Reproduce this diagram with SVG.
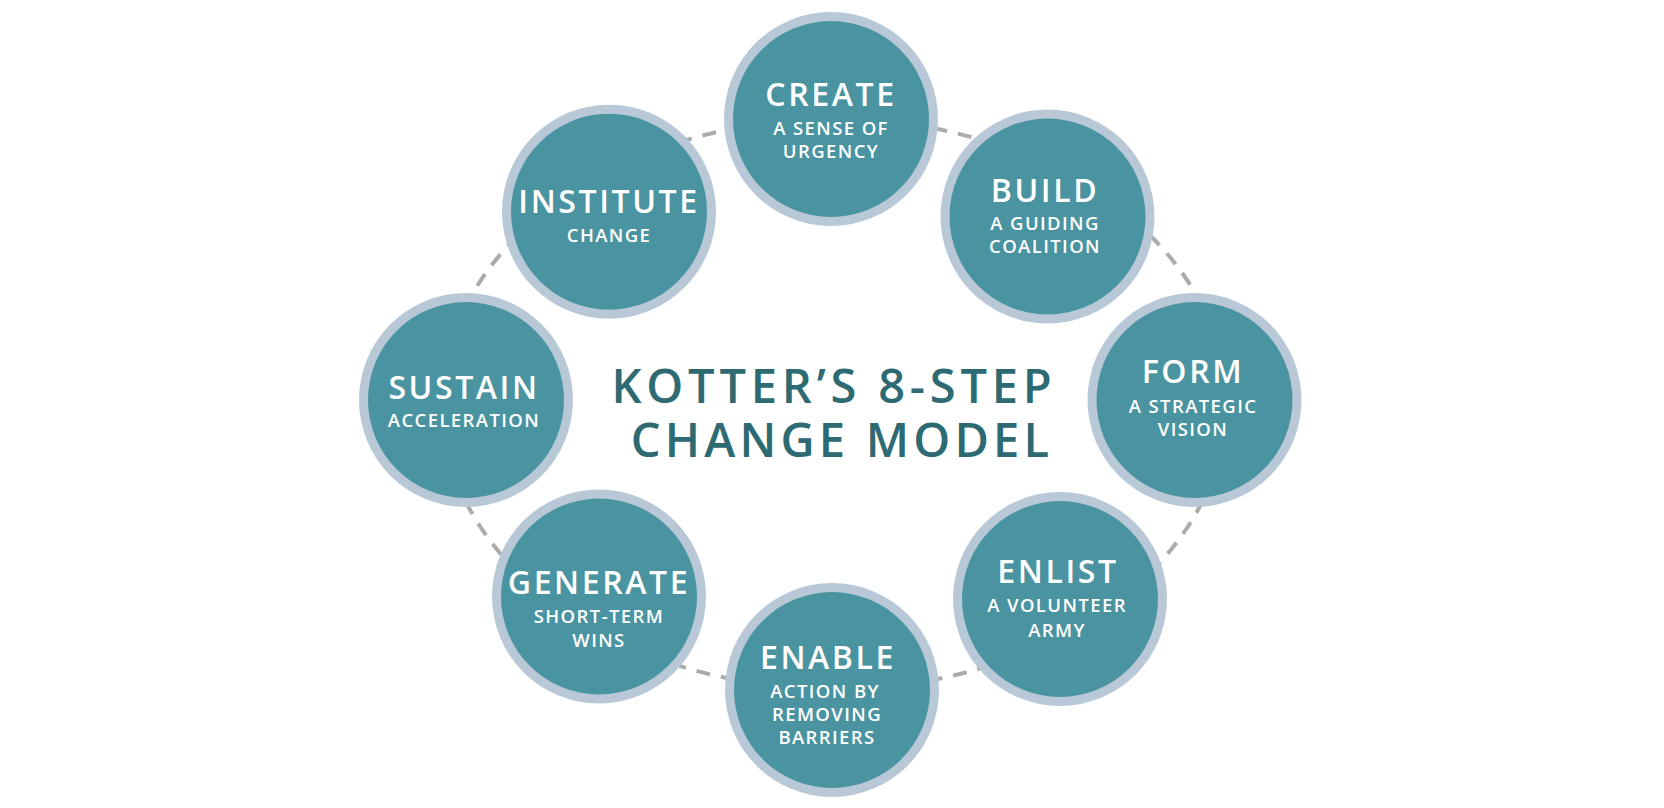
<svg xmlns="http://www.w3.org/2000/svg" width="1664" height="808" viewBox="0 0 1664 808">
<style>
.ring{fill:#b8c8d7}
.core{fill:#4a94a1}
.t{font-family:"Open Sans","Liberation Sans",sans-serif;font-weight:600;font-size:32px;fill:#ffffff;text-anchor:middle;letter-spacing:2.6px}
.s{font-family:"Open Sans","Liberation Sans",sans-serif;font-weight:600;font-size:18.5px;fill:#ffffff;text-anchor:middle;letter-spacing:1.4px}
.h{font-family:"Open Sans","Liberation Sans",sans-serif;font-weight:600;font-size:47px;fill:#2e6a72;text-anchor:middle}
.c{fill:none;stroke:#ababab;stroke-width:4;stroke-dasharray:14 11}
</style>
<rect width="1664" height="808" fill="#ffffff"/>
<g id="connectors">
<path class="c" d="M834 119 A392 285 0 0 1 1047 164.7"/>
<path class="c" d="M1047 164.7 A392 285 0 0 1 1226 404"/>
<path class="c" d="M1226 404 A392 285 0 0 1 1060 637"/>
<path class="c" d="M1060 637 A392 285 0 0 1 834 689"/>
<path class="c" d="M834 689 A392 285 0 0 1 599 632"/>
<path class="c" d="M599 632 A392 285 0 0 1 442 404"/>
<path class="c" d="M442 404 A392 285 0 0 1 609 170.6"/>
<path class="c" d="M609 170.6 A392 285 0 0 1 834 119"/>
</g>
<g id="title">
<text class="h" x="834" y="403" style="letter-spacing:4.8px">KOTTER’S 8-STEP</text>
<text class="h" x="842" y="457" style="letter-spacing:4.2px">CHANGE MODEL</text>
</g>
<g id="create">
<circle class="ring" cx="831" cy="119" r="107"/><circle class="core" cx="831" cy="119" r="98"/>
<text class="t" x="831" y="106">CREATE</text>
<text class="s" x="831" y="135">A SENSE OF</text>
<text class="s" x="831" y="158">URGENCY</text>
</g>
<g id="build">
<circle class="ring" cx="1047.5" cy="216.5" r="107"/><circle class="core" cx="1047.5" cy="216.5" r="98"/>
<text class="t" x="1045" y="202">BUILD</text>
<text class="s" x="1045" y="230">A GUIDING</text>
<text class="s" x="1045" y="253">COALITION</text>
</g>
<g id="form">
<circle class="ring" cx="1194.5" cy="400" r="107"/><circle class="core" cx="1194.5" cy="400" r="98"/>
<text class="t" x="1193" y="383">FORM</text>
<text class="s" x="1193" y="413">A STRATEGIC</text>
<text class="s" x="1193" y="436">VISION</text>
</g>
<g id="enlist">
<circle class="ring" cx="1060" cy="599" r="107"/><circle class="core" cx="1060" cy="599" r="98"/>
<text class="t" x="1058" y="583">ENLIST</text>
<text class="s" x="1057" y="612">A VOLUNTEER</text>
<text class="s" x="1057" y="637">ARMY</text>
</g>
<g id="enable">
<circle class="ring" cx="832" cy="690" r="107"/><circle class="core" cx="832" cy="690" r="98"/>
<text class="t" x="828" y="669">ENABLE</text>
<text class="s" x="825" y="698">ACTION BY</text>
<text class="s" x="827" y="721">REMOVING</text>
<text class="s" x="827" y="744">BARRIERS</text>
</g>
<g id="generate">
<circle class="ring" cx="599" cy="596.5" r="107"/><circle class="core" cx="599" cy="596.5" r="98"/>
<text class="t" x="599" y="594">GENERATE</text>
<text class="s" x="599" y="623">SHORT-TERM</text>
<text class="s" x="599" y="647">WINS</text>
</g>
<g id="sustain">
<circle class="ring" cx="466" cy="400" r="107"/><circle class="core" cx="466" cy="400" r="98"/>
<text class="t" x="464" y="399">SUSTAIN</text>
<text class="s" x="464" y="427">ACCELERATION</text>
</g>
<g id="institute">
<circle class="ring" cx="609" cy="211.7" r="107"/><circle class="core" cx="609" cy="211.7" r="98"/>
<text class="t" x="609" y="213">INSTITUTE</text>
<text class="s" x="609" y="242">CHANGE</text>
</g>
</svg>
